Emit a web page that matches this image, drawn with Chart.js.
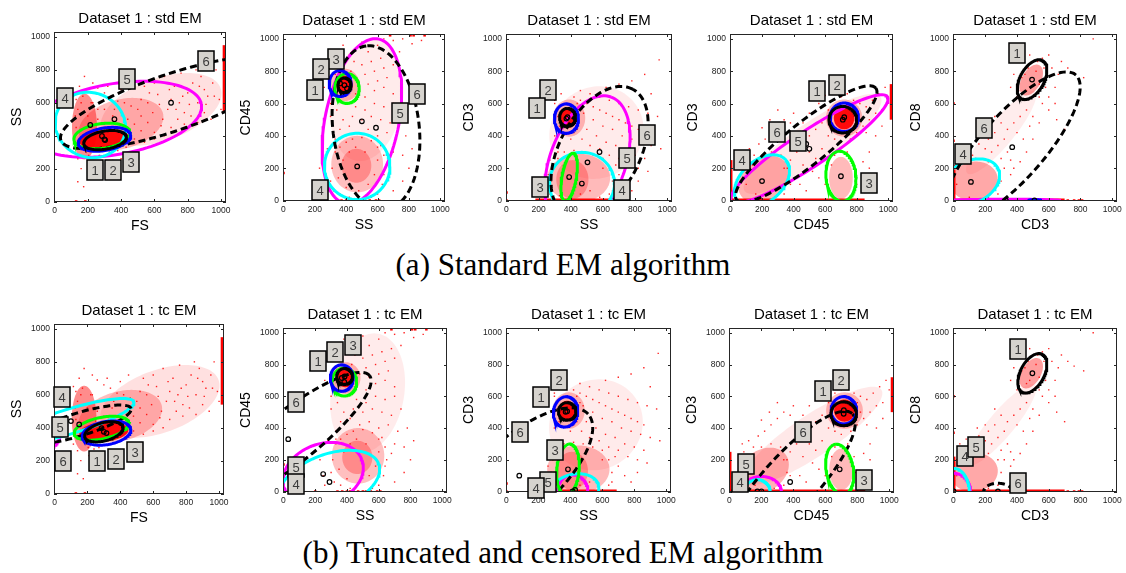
<!DOCTYPE html>
<html>
<head>
<meta charset="utf-8">
<script src="https://cdn.jsdelivr.net/npm/chart.js@4/dist/chart.umd.min.js"></script>
<style>
  body { margin: 0; background: #fff; width: 1126px; height: 573px; position: relative; overflow: hidden; }
  canvas { position: absolute; }
  .caption { position: absolute; left: 0; width: 1126px; text-align: center; font-family: "Liberation Serif", "Times New Roman", serif; font-size: 31px; line-height: 31px; color: #000; }
</style>
</head>
<body>
<div class="caption" style="top:249px">(a) Standard EM algorithm</div>
<div class="caption" style="top:537px">(b) Truncated and censored EM algorithm</div>
<script>
// axis setup shared by every panel
const tickValues = [0, 200, 400, 600, 800, 1000];
const rowTitles = ['Dataset 1 : std EM', 'Dataset 1 : tc EM'];
const xNames = ['FS', 'SS', 'SS', 'CD45', 'CD3'];
const yNames = ['SS', 'CD45', 'CD3', 'CD3', 'CD8'];

// component colours (1..6), 6 is dashed
const compColors = { 1: '#000000', 2: '#0000ff', 3: '#00ff00', 4: '#00ffff', 5: '#ff00ff', 6: '#000000' };
const drawOrder = [5, 4, 6, 3, 2, 1];

// ---- event clouds, one set per pair of channels ----
// haze: [cx, cy, rx, ry, angleDeg, density]
const fsSsHaze = [
  [300, 375, 150, 60, 5, 0.95],
  [180, 455, 75, 200, 0, 0.45],
  [400, 470, 260, 150, 15, 0.26],
  [640, 560, 380, 190, 20, 0.12]
];
const fsSsDots = [
  [140,120],[160,200],[175,90],[210,230],[250,210],[150,700],[180,760],[230,720],[260,690],[300,660],
  [340,640],[380,610],[420,600],[460,580],[500,560],[520,620],[560,600],[590,540],[620,650],[650,500],
  [680,560],[700,620],[720,700],[750,600],[780,540],[800,660],[830,720],[860,600],[880,760],[900,680],
  [920,640],[950,720],[970,800],[990,620],[1000,560],[540,700],[600,720],[660,760],[760,780],[850,800],
  [480,470],[520,430],[560,480],[600,420],[640,460],[700,450],[740,500],[780,470],[820,520],[860,480],
  [900,540],[940,500],[480,380],[540,360],[600,380],[660,400],[350,250],[400,260],[280,170],[320,700],
  [400,680],[450,720],[360,560],[300,560],[230,600],[160,600],[200,520],[260,500],[420,450],
  [570,660],[630,590],[690,680],[730,560],[770,640],[810,590],[870,700],[910,590],[960,640],[520,520],
  [115,300],[120,380],[125,520],[130,620],[140,260],[150,330],[170,640],[205,280],[240,270],[270,280],
  [330,300],[380,310],[430,330],[450,400],[440,500],[400,540],[350,520],[300,470],[250,440],[220,600],
  [190,300],[210,400],[260,560],[130,450],[140,560],[115,650],[330,450],[380,470]
];
const fsSsEdges = [[1022, 540, 1022, 950]];
const fsSsEdgeDots = [[130, 0], [185, 0]];

const ssCd45Haze = [
  [390, 715, 52, 58, 0, 0.95],
  [390, 715, 95, 100, 0, 0.28],
  [470, 225, 165, 175, 0, 0.25],
  [465, 215, 95, 105, 0, 0.28],
  [530, 620, 230, 380, -10, 0.08]
];
const ssCd45Dots = [
  [300,880],[340,920],[380,960],[420,900],[460,940],[500,980],[540,920],[600,960],[640,1000],[700,990],
  [760,1000],[820,970],[880,990],[450,860],[500,840],[560,860],[620,880],[680,900],[740,920],[520,780],
  [580,800],[640,820],[700,840],[480,740],[540,720],[600,740],[660,760],[460,660],[520,640],[580,680],
  [640,700],[700,660],[400,600],[460,580],[520,560],[580,600],[640,580],[700,600],[340,560],[300,520],
  [380,500],[440,520],[500,500],[560,520],[620,500],[680,480],[740,520],[360,440],[420,460],[480,420],
  [540,440],[600,400],[660,420],[720,380],[780,400],[330,380],[280,320],[620,340],[700,300],[760,280],
  [820,320],[800,200],[760,120],[700,60],[250,100],[230,200],[260,40],[640,160],[680,240],[300,600],
  [260,700],[330,780],[430,800],
  [300,120],[320,60],[330,300],[360,330],[400,360],[440,380],[500,390],[560,370],[600,330],[640,280],
  [650,200],[630,100],[600,40],[560,20],[420,20],[360,40],[310,200],[350,140],[400,80],[480,60],
  [540,100],[580,160],[600,250],[520,300],[420,300],[380,250],[330,330],[460,330]
];
const ssCd45Edges = [];
const ssCd45EdgeDots = [
  [680,1022],[810,1022],[830,1022],[900,1022],[200,0],[340,0],[370,0],[400,0],[420,0],[440,0],
  [470,0],[500,0],[520,0],[550,0],[590,0],[610,0],[0,170]
];

const ssCd3Haze = [
  [380, 510, 52, 62, 0, 0.95],
  [390, 510, 100, 115, 0, 0.26],
  [450, 140, 195, 150, 0, 0.27],
  [410, 130, 100, 120, 0, 0.28],
  [560, 420, 300, 280, 35, 0.08]
];
const ssCd3Dots = [
  [300,620],[340,660],[420,640],[460,620],[500,600],[540,580],[580,560],[620,540],[660,520],[700,500],
  [740,480],[780,460],[820,440],[860,420],[460,680],[520,660],[580,640],[640,620],[700,600],[760,580],
  [820,560],[880,540],[940,520],[620,700],[700,720],[780,740],[860,780],[950,870],[900,660],[480,540],
  [540,500],[600,460],[660,440],[720,400],[780,380],[840,360],[900,340],[960,320],[500,440],[560,400],
  [620,360],[680,340],[740,300],[800,280],[860,260],[420,420],[470,380],[520,340],[580,320],[640,280],
  [700,260],[760,220],[820,200],[880,180],[300,400],[320,300],[270,250],[260,160],[700,160],[740,100],
  [780,60],[820,120],[660,60],[240,60],[330,460],[400,380],[600,200],[680,220],
  [270,40],[280,120],[290,200],[320,260],[360,300],[420,310],[480,300],[540,280],[600,260],[640,200],
  [660,120],[640,40],[580,20],[520,60],[460,40],[330,30],[300,600],[330,440],[440,440],[460,560],
  [320,520],[440,600]
];
const ssCd3Edges = [[180, 0, 690, 0]];
const ssCd3EdgeDots = [[0, 0], [0, 50]];

const cd45Cd3Haze = [
  [720, 510, 65, 70, 0, 0.95],
  [720, 510, 115, 115, 0, 0.26],
  [210, 130, 175, 130, 35, 0.3],
  [700, 140, 75, 130, 0, 0.27],
  [520, 350, 520, 130, 34, 0.09]
];
const cd45Cd3Dots = [
  [60,150],[90,250],[120,320],[150,280],[180,350],[220,380],[260,420],[300,460],[340,500],[380,480],
  [420,420],[460,380],[500,400],[540,440],[580,480],[620,560],[660,620],[700,640],[740,660],[780,620],
  [820,600],[860,580],[900,620],[940,660],[980,700],[1000,640],[620,400],[660,380],[700,360],[760,380],
  [800,420],[840,460],[880,500],[920,540],[960,560],[500,300],[540,260],[580,320],[420,300],[380,250],
  [340,200],[460,220],[520,180],[560,140],[600,100],[440,100],[480,60],[360,120],[880,300],[840,240],
  [920,400],[960,460],[600,650],[560,600],[500,540],[460,480],[400,540],[780,520],[820,500],[860,420],
  [300,560],[250,500],[200,450],[700,420],[760,460],[880,200],[800,100],[850,50],
  [40,60],[60,200],[80,300],[140,220],[200,280],[260,300],[320,280],[360,200],[380,100],[340,40],
  [280,20],[160,40],[100,100],[620,80],[640,220],[660,280],[740,300],[780,220],[790,120],[760,30],
  [640,460],[800,560],[780,440],[660,560]
];
const cd45Cd3Edges = [[0, 0, 850, 0], [0, 0, 0, 250], [1022, 500, 1022, 720]];
const cd45Cd3EdgeDots = [];

const cd3Cd8Haze = [
  [490, 745, 105, 60, 60, 0.38],
  [130, 120, 150, 120, 10, 0.34],
  [300, 420, 330, 80, 50, 0.07]
];
const cd3Cd8Dots = [
  [40,300],[80,330],[120,280],[160,350],[200,320],[240,300],[280,340],[320,380],[260,420],[300,260],
  [340,300],[360,250],[400,420],[440,380],[480,460],[420,520],[460,560],[500,520],[540,480],[380,480],
  [340,440],[560,600],[600,640],[640,700],[660,780],[620,820],[560,880],[480,900],[420,860],[380,780],
  [360,700],[400,640],[440,620],[600,900],[680,860],[720,820],[760,790],[820,760],[880,1000],[520,800],
  [480,700],[540,720],[580,760],[450,780],[520,660],[600,560],[650,500],[700,440],[300,480],[260,520],
  [200,420],[150,400],[220,380],[380,200],[420,240],[460,300],[500,380],[320,200],[360,160],[640,600],
  [20,100],[20,200],[60,250],[140,260],[220,240],[280,200],[300,120],[280,40],[220,20],[100,20],
  [410,680],[430,760],[470,820],[530,860],[570,820],[580,700],[540,640],[460,680]
];
const cd3Cd8Edges = [[0, 0, 700, 0], [0, 0, 0, 220]];
const cd3Cd8EdgeDots = [[720,0],[760,0],[790,0],[810,0],[0,370],[0,600]];

// ---- fitted components: [component, cx, cy, a, b, angleDeg] ----
const stdFsSs = [[6,700,600,700,172,19],[5,360,500,530,215,10],[4,215,465,215,195,-25],[3,285,398,170,75,8],[2,300,378,160,68,10],[1,304,373,130,55,10]];
const stdSsCd45 = [[6,590,450,510,275,97],[5,500,490,520,235,78],[4,470,211,209,205,0],[3,405,693,78,92,0],[2,361,724,70,80,0],[1,389,713,42,45,0]];
const stdSsCd3 = [[6,579,300,440,250,62],[5,504,236,430,235,70],[4,469,105,203,193,0],[3,390,145,150,45,80],[2,373,507,75,91,0],[1,380,515,50,55,0]];
const stdCd45Cd3 = [[6,480,350,560,130,38],[5,500,320,590,110,33],[4,200,120,200,130,40],[3,700,150,155,95,95],[2,721,515,90,88,0],[1,712,500,88,82,0]];
const stdCd3Cd8 = [[6,370,330,600,200,48],[5,330,0,340,8,0],[4,110,115,190,130,25],[2,510,0,40,5,0],[1,495,748,135,75,60]];
const tcFsSs = [[6,150,420,330,70,17],[5,-60,370,110,95,80],[4,100,440,400,75,17],[3,286,397,170,65,12],[2,316,367,150,70,10],[1,300,375,120,55,15]];
const tcSsCd45 = [[6,30,330,650,165,38],[5,250,110,260,190,20],[4,290,60,330,175,20],[3,383,690,78,88,0],[2,367,715,72,83,0],[1,385,725,50,50,0]];
const tcSsCd3 = [[6,80,100,580,240,42],[5,415,0,95,105,0],[4,430,10,150,100,10],[3,385,140,160,70,85],[2,370,502,96,76,80],[1,380,505,55,55,0]];
const tcCd45Cd3 = [[6,380,60,580,170,48],[5,200,0,125,95,0],[4,175,0,80,75,0],[3,690,140,160,85,100],[2,716,512,80,86,0],[1,715,490,80,75,0]];
const tcCd3Cd8 = [[6,280,0,90,52,0],[5,0,0,108,115,0],[4,0,0,100,146,0],[1,497,745,135,75,62]];

// numbered tags: [component, x, y]
const stdFsSsTags = [[6,911,851],[5,433,747],[4,66,627],[1,245,189],[2,354,189],[3,459,243]];
const stdSsCd45Tags = [[3,337,877],[2,240,816],[1,199,686],[6,849,658],[5,741,543],[4,234,68]];
const stdSsCd3Tags = [[2,260,685],[1,188,571],[6,875,406],[5,750,261],[3,208,85],[4,719,64]];
const stdCd45Cd3Tags = [[1,547,675],[2,674,716],[6,292,422],[5,430,371],[4,70,250],[3,875,106]];
const stdCd3Cd8Tags = [[1,402,913],[6,192,447],[4,62,288]];
const tcFsSsTags = [[4,46,588],[5,36,406],[6,52,197],[1,256,197],[2,372,207],[3,490,252]];
const tcSsCd45Tags = [[1,218,819],[2,322,880],[3,440,922],[6,77,565],[5,81,155],[4,77,45]];
const tcSsCd3Tags = [[2,328,702],[1,218,594],[6,87,375],[3,301,260],[5,259,63],[4,187,21]];
const tcCd45Cd3Tags = [[1,588,635],[2,701,702],[6,460,375],[5,103,173],[4,68,63],[3,841,73]];
const tcCd3Cd8Tags = [[1,409,896],[4,73,225],[5,145,281],[6,409,56]];

const columns = [
  { haze: fsSsHaze, dots: fsSsDots, edges: fsSsEdges, edgeDots: fsSsEdgeDots },
  { haze: ssCd45Haze, dots: ssCd45Dots, edges: ssCd45Edges, edgeDots: ssCd45EdgeDots },
  { haze: ssCd3Haze, dots: ssCd3Dots, edges: ssCd3Edges, edgeDots: ssCd3EdgeDots },
  { haze: cd45Cd3Haze, dots: cd45Cd3Dots, edges: cd45Cd3Edges, edgeDots: cd45Cd3EdgeDots },
  { haze: cd3Cd8Haze, dots: cd3Cd8Dots, edges: cd3Cd8Edges, edgeDots: cd3Cd8EdgeDots }
];
const fits = [
  [stdFsSs, stdSsCd45, stdSsCd3, stdCd45Cd3, stdCd3Cd8],
  [tcFsSs, tcSsCd45, tcSsCd3, tcCd45Cd3, tcCd3Cd8]
];
const tags = [
  [stdFsSsTags, stdSsCd45Tags, stdSsCd3Tags, stdCd45Cd3Tags, stdCd3Cd8Tags],
  [tcFsSsTags, tcSsCd45Tags, tcSsCd3Tags, tcCd45Cd3Tags, tcCd3Cd8Tags]
];

// plot boxes on the page: [left, top, right, bottom]
const boxes = [
  [[54,32,226,202],[283,34,445,201],[506,34,672,201],[730,34,893,201],[953,34,1117,201]],
  [[54,324,224,494],[283,328,447,492],[506,328,671,492],[729,328,894,492],[953,328,1117,492]]
];
const PAD_L = 55, PAD_T = 30, PAD_R = 14, PAD_B = 34;
const FONT = '"Liberation Sans", Arial, sans-serif';

Chart.defaults.font.family = FONT;

function ellipsePts(cx, cy, a, b, deg, n = 120) {
  const t = deg * Math.PI / 180, pts = [];
  for (let i = 0; i <= n; i++) {
    const p = 2 * Math.PI * i / n;
    const u = a * Math.cos(p), v = b * Math.sin(p);
    pts.push({ x: cx + u * Math.cos(t) - v * Math.sin(t), y: cy + u * Math.sin(t) + v * Math.cos(t) });
  }
  return pts;
}

function makeDecor(info) {
  return {
    id: 'decor',
    beforeDatasetsDraw(chart) {
      const { ctx, chartArea: a, scales: { x, y } } = chart;
      ctx.save();
      ctx.beginPath(); ctx.rect(a.left, a.top, a.right - a.left, a.bottom - a.top); ctx.clip();
      info.haze.forEach(([cx, cy, rx, ry, deg, alpha]) => {
        ctx.beginPath();
        ellipsePts(cx, cy, rx, ry, deg).forEach((p, i) => {
          const px = x.getPixelForValue(p.x), py = y.getPixelForValue(p.y);
          i ? ctx.lineTo(px, py) : ctx.moveTo(px, py);
        });
        ctx.closePath();
        ctx.fillStyle = `rgba(255,0,0,${alpha})`;
        ctx.fill();
      });
      ctx.restore();
    },
    afterDraw(chart) {
      const { ctx, chartArea: a, scales: { x, y } } = chart;
      ctx.save();
      // frame with inward ticks on all sides
      ctx.strokeStyle = '#262626';
      ctx.lineWidth = 1;
      ctx.strokeRect(a.left + 0.5, a.top + 0.5, a.right - a.left - 1, a.bottom - a.top - 1);
      ctx.beginPath();
      tickValues.forEach(v => {
        const px = Math.round(x.getPixelForValue(v)) + 0.5;
        const py = Math.round(y.getPixelForValue(v)) + 0.5;
        ctx.moveTo(px, a.bottom); ctx.lineTo(px, a.bottom - 3);
        ctx.moveTo(px, a.top); ctx.lineTo(px, a.top + 3);
        ctx.moveTo(a.left, py); ctx.lineTo(a.left + 3, py);
        ctx.moveTo(a.right, py); ctx.lineTo(a.right - 3, py);
      });
      ctx.stroke();

      // titles
      ctx.fillStyle = '#000';
      ctx.textAlign = 'center';
      ctx.textBaseline = 'alphabetic';
      ctx.font = `15px ${FONT}`;
      ctx.fillText(info.title, (a.left + a.right) / 2, a.top - 9.5);
      ctx.font = `14px ${FONT}`;
      ctx.fillText(info.xName, (a.left + a.right) / 2, a.bottom + 28);
      ctx.save();
      ctx.translate(a.left - 37, (a.top + a.bottom) / 2);
      ctx.rotate(-Math.PI / 2);
      ctx.textBaseline = 'middle';
      ctx.fillText(info.yName, 0, 0);
      ctx.restore();

      // numbered component tags
      ctx.font = `13px ${FONT}`;
      ctx.textBaseline = 'middle';
      info.tags.forEach(([n, vx, vy]) => {
        const px = Math.round(x.getPixelForValue(vx)), py = Math.round(y.getPixelForValue(vy));
        ctx.fillStyle = '#d6d3ce';
        ctx.fillRect(px - 8, py - 10, 16, 20);
        ctx.strokeStyle = '#000';
        ctx.lineWidth = 1.5;
        ctx.strokeRect(px - 8, py - 10, 16, 20);
        ctx.fillStyle = '#3a3a3a';
        ctx.fillText(String(n), px, py + 1);
      });
      ctx.restore();
    }
  };
}

function buildPanel(row, col) {
  const [l, t, r, b] = boxes[row][col];
  const canvas = document.createElement('canvas');
  canvas.width = (r - l) + PAD_L + PAD_R;
  canvas.height = (b - t) + PAD_T + PAD_B;
  canvas.style.left = (l - PAD_L) + 'px';
  canvas.style.top = (t - PAD_T) + 'px';
  document.body.appendChild(canvas);

  const cloud = columns[col];
  const ells = fits[row][col];
  const datasets = [];

  datasets.push({
    data: cloud.dots.map(([x, y]) => ({ x, y })),
    pointStyle: 'rect', pointRadius: 1, borderWidth: 0,
    backgroundColor: 'rgba(255,0,0,0.85)', order: 40
  });
  cloud.edges.forEach(([x1, y1, x2, y2]) => datasets.push({
    data: [{ x: x1, y: y1 }, { x: x2, y: y2 }],
    showLine: true, borderColor: '#ff0000', borderWidth: 4, pointRadius: 0, order: 30
  }));
  datasets.push({
    data: cloud.edgeDots.map(([x, y]) => ({ x, y })),
    pointStyle: 'rect', pointRadius: 1.8, borderWidth: 0,
    backgroundColor: '#ff0000', order: 30
  });

  ells.forEach(([c, cx, cy, ea, eb, deg]) => datasets.push({
    data: ellipsePts(cx, cy, ea, eb, deg),
    showLine: true, borderColor: compColors[c], borderWidth: 3,
    borderDash: c === 6 ? [7, 4] : [], pointRadius: 0,
    order: 20 - drawOrder.indexOf(c)
  }));

  datasets.push({
    data: ells.map(e => ({ x: e[1], y: e[2] })),
    pointStyle: 'circle', pointRadius: 2.3, borderWidth: 1.2,
    borderColor: '#000', backgroundColor: 'rgba(0,0,0,0)', order: 1
  });

  const axis = (isX) => ({
    type: 'linear', min: -3, max: 1030,
    grid: { display: false, drawTicks: false }, border: { display: false },
    ticks: { font: { size: 8.5 }, color: '#222', padding: 4, maxRotation: 0, callback: v => String(v) },
    afterBuildTicks: s => { s.ticks = tickValues.map(v => ({ value: v })); },
    afterFit: s => { if (isX) s.height = PAD_B; else s.width = PAD_L; }
  });

  new Chart(canvas, {
    type: 'scatter',
    data: { datasets },
    options: {
      responsive: false, animation: false, devicePixelRatio: 1, events: [],
      layout: { padding: { top: PAD_T, right: PAD_R, left: 0, bottom: 0 } },
      plugins: { legend: { display: false }, tooltip: { enabled: false } },
      scales: { x: axis(true), y: axis(false) }
    },
    plugins: [makeDecor({
      title: rowTitles[row], xName: xNames[col], yName: yNames[col],
      haze: cloud.haze, tags: tags[row][col]
    })]
  });
}

for (let row = 0; row < 2; row++) {
  for (let col = 0; col < 5; col++) buildPanel(row, col);
}
</script>
</body>
</html>
